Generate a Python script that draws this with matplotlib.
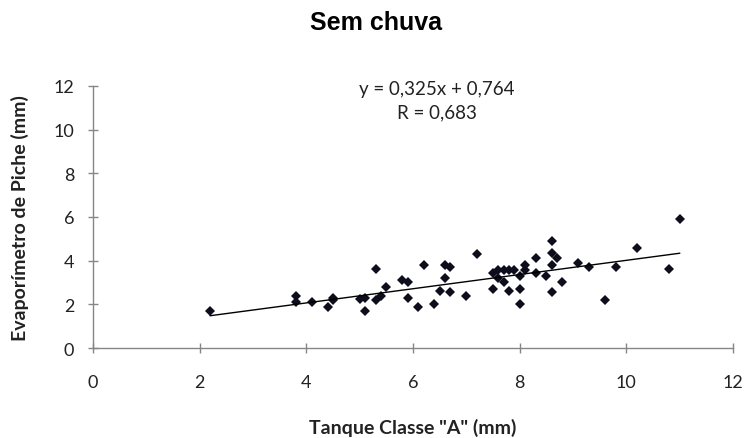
import matplotlib
matplotlib.use("Agg")
import matplotlib.pyplot as plt
import numpy as np

# ── Data ──────────────────────────────────────────────────────────────────────
tanque = [2.2, 3.8, 3.8, 4.1, 4.4, 4.5, 4.5, 5.0, 5.1, 5.1,
          5.3, 5.3, 5.4, 5.5, 5.8, 5.9, 5.9, 6.1, 6.2, 6.4,
          6.5, 6.6, 6.6, 6.7, 6.7, 7.0, 7.2, 7.5, 7.5, 7.6,
          7.6, 7.7, 7.7, 7.8, 7.8, 7.9, 8.0, 8.0, 8.0, 8.1,
          8.1, 8.3, 8.3, 8.5, 8.6, 8.6, 8.6, 8.6, 8.7, 8.8,
          9.1, 9.3, 9.6, 9.8, 10.2, 10.8, 11.0]
piche = [1.7, 2.4, 2.1, 2.1, 1.9, 2.3, 2.2, 2.25, 2.3, 1.7,
         3.6, 2.2, 2.4, 2.8, 3.1, 3.0, 2.3, 1.9, 3.8, 2.0,
         2.6, 3.8, 3.2, 3.7, 2.55, 2.4, 4.3, 3.45, 2.7, 3.55,
         3.2, 3.0, 3.55, 2.6, 3.55, 3.55, 3.3, 2.7, 2.0, 3.8,
         3.55, 4.1, 3.45, 3.3, 4.9, 4.35, 3.8, 2.55, 4.1, 3.0,
         3.9, 3.7, 2.2, 3.7, 4.6, 3.6, 5.9]

slope, intercept = 0.325, 0.764
r_value = 0.683
ticks = [0, 2, 4, 6, 8, 10, 12]

# ── Figure ────────────────────────────────────────────────────────────────────
fig = plt.figure(figsize=(7.45, 4.39), dpi=100)
ax = fig.add_axes([0.1248, 0.205, 0.859, 0.597])

ax.plot(tanque, piche, linestyle="none", marker="D", ms=5,
        color="#0d0d1c", mew=0)

xfit = np.array([min(tanque), max(tanque)])
ax.plot(xfit, slope * xfit + intercept, color="black", lw=1)

ax.set_xlim(0, 12)
ax.set_ylim(0, 12)
ax.set_xticks(ticks)
ax.set_yticks(ticks)

for s in ("top", "right"):
    ax.spines[s].set_visible(False)
for s in ("left", "bottom"):
    ax.spines[s].set_color("#868686")
    ax.spines[s].set_linewidth(1)

ax.tick_params(axis="both", direction="inout", length=7, width=1,
               color="#868686", labelsize=13, labelcolor="#222222")
ax.tick_params(axis="x", pad=15)
ax.tick_params(axis="y", pad=10)
for lab in ax.get_xticklabels() + ax.get_yticklabels():
    lab.set_fontfamily("Lato")

ax.set_xlabel('Tanque Classe "A" (mm)', fontsize=14, fontweight="bold",
              family="Lato", color="#222222", va="center")
ax.set_ylabel("Evaporímetro de Piche (mm)", fontsize=14, fontweight="bold",
              family="Lato", color="#222222", va="center")
ax.xaxis.set_label_coords(0.5, -0.30)
ax.yaxis.set_label_coords(-0.114, 0.5)

# equation box, centred at x ~ 436 px
ax.text(0.5375, 0.99, f"y = {slope:.3f}x + {intercept:.3f}".replace(".", ","),
        transform=ax.transAxes, ha="center", va="center", fontsize=13.5,
        family="Lato", color="#222222")
ax.text(0.5375, 0.90, f"R = {r_value:.3f}".replace(".", ","),
        transform=ax.transAxes, ha="center", va="center", fontsize=13.5,
        family="Lato", color="#222222")

fig.text(0.505, 0.948, "Sem chuva", ha="center", va="center", fontsize=18,
         fontweight="bold", family="Liberation Sans")

fig.savefig("out.png", dpi=100)
